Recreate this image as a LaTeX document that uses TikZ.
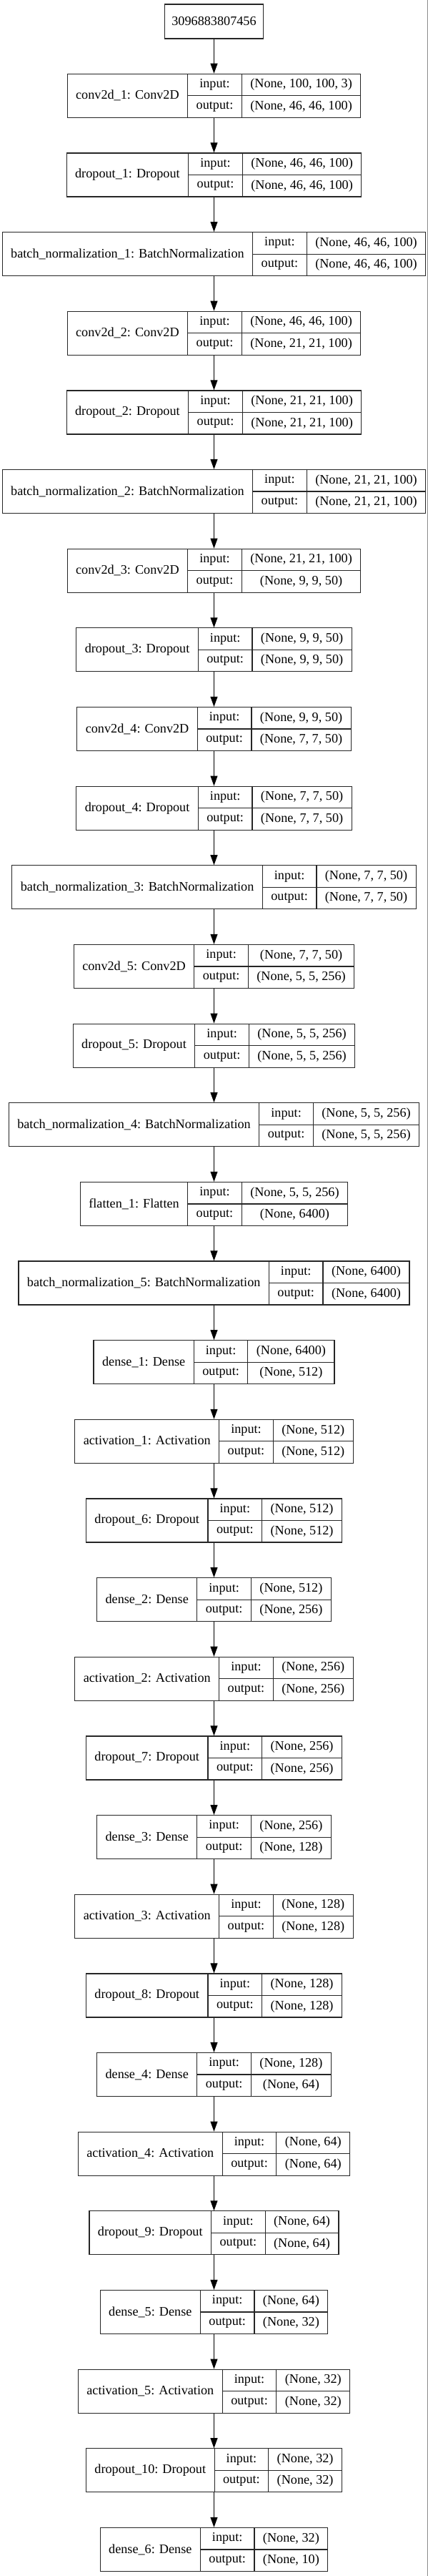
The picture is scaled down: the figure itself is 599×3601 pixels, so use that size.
\documentclass[tikz,border=0pt]{standalone}
\usepackage{fontspec}
\setmainfont{Liberation Serif}
\usetikzlibrary{arrows.meta}

\newcommand{\layerfont}{\fontsize{18.2}{21}\selectfont}
\newlength{\lblwd}
\newlength{\inwd}
\newlength{\outwd}
\newlength{\iowd}
\def\fieldpad{12}

% label / input shape / output shape of each layer
\newcommand{\layerlist}{
  {conv2d\_1: Conv2D}/{(None, 100, 100, 3)}/{(None, 46, 46, 100)},
  {dropout\_1: Dropout}/{(None, 46, 46, 100)}/{(None, 46, 46, 100)},
  {batch\_normalization\_1: BatchNormalization}/{(None, 46, 46, 100)}/{(None, 46, 46, 100)},
  {conv2d\_2: Conv2D}/{(None, 46, 46, 100)}/{(None, 21, 21, 100)},
  {dropout\_2: Dropout}/{(None, 21, 21, 100)}/{(None, 21, 21, 100)},
  {batch\_normalization\_2: BatchNormalization}/{(None, 21, 21, 100)}/{(None, 21, 21, 100)},
  {conv2d\_3: Conv2D}/{(None, 21, 21, 100)}/{(None, 9, 9, 50)},
  {dropout\_3: Dropout}/{(None, 9, 9, 50)}/{(None, 9, 9, 50)},
  {conv2d\_4: Conv2D}/{(None, 9, 9, 50)}/{(None, 7, 7, 50)},
  {dropout\_4: Dropout}/{(None, 7, 7, 50)}/{(None, 7, 7, 50)},
  {batch\_normalization\_3: BatchNormalization}/{(None, 7, 7, 50)}/{(None, 7, 7, 50)},
  {conv2d\_5: Conv2D}/{(None, 7, 7, 50)}/{(None, 5, 5, 256)},
  {dropout\_5: Dropout}/{(None, 5, 5, 256)}/{(None, 5, 5, 256)},
  {batch\_normalization\_4: BatchNormalization}/{(None, 5, 5, 256)}/{(None, 5, 5, 256)},
  {flatten\_1: Flatten}/{(None, 5, 5, 256)}/{(None, 6400)},
  {batch\_normalization\_5: BatchNormalization}/{(None, 6400)}/{(None, 6400)},
  {dense\_1: Dense}/{(None, 6400)}/{(None, 512)},
  {activation\_1: Activation}/{(None, 512)}/{(None, 512)},
  {dropout\_6: Dropout}/{(None, 512)}/{(None, 512)},
  {dense\_2: Dense}/{(None, 512)}/{(None, 256)},
  {activation\_2: Activation}/{(None, 256)}/{(None, 256)},
  {dropout\_7: Dropout}/{(None, 256)}/{(None, 256)},
  {dense\_3: Dense}/{(None, 256)}/{(None, 128)},
  {activation\_3: Activation}/{(None, 128)}/{(None, 128)},
  {dropout\_8: Dropout}/{(None, 128)}/{(None, 128)},
  {dense\_4: Dense}/{(None, 128)}/{(None, 64)},
  {activation\_4: Activation}/{(None, 64)}/{(None, 64)},
  {dropout\_9: Dropout}/{(None, 64)}/{(None, 64)},
  {dense\_5: Dense}/{(None, 64)}/{(None, 32)},
  {activation\_5: Activation}/{(None, 32)}/{(None, 32)},
  {dropout\_10: Dropout}/{(None, 32)}/{(None, 32)},
  {dense\_6: Dense}/{(None, 32)}/{(None, 10)}%
}

% field widths, measured outside the picture
\newcommand{\measurelayers}{%
  \settowidth{\iowd}{\layerfont output:}%
  \pgfmathsetmacro\wb{\iowd+2*\fieldpad}%
  \xdef\iofieldwd{\wb}%
  \foreach \lbl/\vin/\vout [count=\i] in \layerlist {%
    \settowidth{\lblwd}{\layerfont\lbl}%
    \settowidth{\inwd}{\layerfont\vin}%
    \settowidth{\outwd}{\layerfont\vout}%
    \pgfmathsetmacro\wa{\lblwd+2*\fieldpad}%
    \pgfmathsetmacro\wc{max(\inwd,\outwd)+2*\fieldpad}%
    \expandafter\xdef\csname lblfield\i\endcsname{\wa}%
    \expandafter\xdef\csname valfield\i\endcsname{\wc}%
  }}

\begin{document}
\measurelayers
\begin{tikzpicture}[x=1pt,y=-1pt,>={Triangle[length=14pt,width=10pt]},
  field/.style={draw=black!85,line width=1.2pt,inner sep=0pt,minimum height=30.5pt,font=\layerfont},
  recbox/.style={inner sep=0pt,outer sep=0.6pt,minimum height=61pt},
  flow/.style={->,line width=1pt}]
\useasboundingbox (0,0) rectangle (599,3601);
\draw[black!45,line width=1pt] (598,0) -- (598,3601);

\node[field,minimum width=138pt,minimum height=48pt] (L0) at (299.5,30) {3096883807456};

\foreach \lbl/\vin/\vout [count=\i] in \layerlist {
  \expandafter\let\expandafter\wa\csname lblfield\i\endcsname
  \let\wb\iofieldwd
  \expandafter\let\expandafter\wc\csname valfield\i\endcsname
  \pgfmathsetmacro\wt{\wa+\wb+\wc}
  \pgfmathsetmacro\xl{299.5-\wt/2}
  \pgfmathsetmacro\yt{103.3+(\i-1)*110.65}
  \pgfmathtruncatemacro\prev{\i-1}
  \node[recbox,minimum width=\wt pt] (L\i) at (299.5,\yt+30.5) {};
  \node[field,minimum width=\wa pt,minimum height=61pt] (L\i-lbl) at (\xl+\wa/2,\yt+30.5) {\lbl};
  \node[field,minimum width=\wb pt] (L\i-in) at (\xl+\wa+\wb/2,\yt+15.25) {input:};
  \node[field,minimum width=\wb pt] (L\i-out) at (\xl+\wa+\wb/2,\yt+45.75) {output:};
  \node[field,minimum width=\wc pt] (L\i-vin) at (\xl+\wa+\wb+\wc/2,\yt+15.25) {\vin};
  \node[field,minimum width=\wc pt] (L\i-vout) at (\xl+\wa+\wb+\wc/2,\yt+45.75) {\vout};
  \draw[flow] (L\prev) -- (L\i);
}
\end{tikzpicture}
\end{document}
